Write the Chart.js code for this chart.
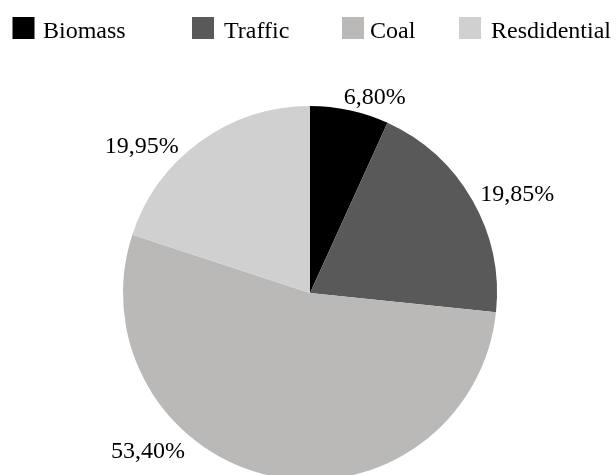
<!DOCTYPE html>
<html>
<head>
<meta charset="utf-8">
<script src="https://cdn.jsdelivr.net/npm/chart.js@4.4.1/dist/chart.umd.min.js"></script>
<style>
  html, body { margin: 0; padding: 0; background: #fff; overflow: hidden; }
  #wrap { width: 616px; height: 475px; overflow: hidden; position: relative; }
  canvas { display: block; }
</style>
</head>
<body>
<div id="wrap"><canvas id="c" width="616" height="586"></canvas></div>
<script>
// Emission sources and their shares (%)
const sources = ['Biomass', 'Traffic', 'Coal', 'Resdidential'];
const shares = [6.80, 19.85, 53.40, 19.95];
const sliceColors = ['#000000', '#595959', '#bab9b7', '#d0d0d0'];

const FONT = '24px "Liberation Serif", "Times New Roman", serif';

// Legend row across the top: a square swatch followed by the source name
const sourceLegend = {
  id: 'sourceLegend',
  afterDraw(chart, args, opts) {
    const ctx = chart.ctx;
    const colors = chart.data.datasets[0].backgroundColor;
    ctx.save();
    ctx.font = FONT;
    ctx.textAlign = 'left';
    ctx.textBaseline = 'alphabetic';
    chart.data.labels.forEach((name, i) => {
      ctx.fillStyle = colors[i];
      ctx.fillRect(opts.boxX[i], opts.boxTop, opts.boxSize, opts.boxSize);
      ctx.fillStyle = '#000';
      ctx.fillText(name, opts.textX[i], opts.baseline);
    });
    ctx.restore();
  }
};

// Percentage labels placed outside each slice, anchored on the rim at the slice's mid-angle
const sliceLabels = {
  id: 'sliceLabels',
  afterDatasetsDraw(chart, args, opts) {
    const ctx = chart.ctx;
    const meta = chart.getDatasetMeta(0);
    const values = chart.data.datasets[0].data;
    ctx.save();
    ctx.font = FONT;
    ctx.fillStyle = '#000';
    ctx.textAlign = 'center';
    ctx.textBaseline = 'alphabetic';
    meta.data.forEach((arc, i) => {
      const p = arc.getProps(['x', 'y', 'startAngle', 'endAngle', 'outerRadius'], true);
      const mid = (p.startAngle + p.endAngle) / 2;
      const ax = p.x + Math.cos(mid) * p.outerRadius;
      const ay = p.y + Math.sin(mid) * p.outerRadius;
      const [dx, dy] = opts.offsets[i];
      const text = values[i].toFixed(2).replace('.', ',') + '%';
      ctx.fillText(text, ax + dx, ay + dy + opts.halfDigit);
    });
    ctx.restore();
  }
};

new Chart(document.getElementById('c'), {
  type: 'pie',
  data: {
    labels: sources,
    datasets: [{
      data: shares,
      backgroundColor: sliceColors,
      borderWidth: 0,
      radius: 187
    }]
  },
  options: {
    responsive: false,
    animation: false,
    events: [],
    layout: { padding: { left: 4, right: 0, top: 0, bottom: 0 } },
    plugins: {
      legend: { display: false },
      tooltip: { enabled: false },
      sourceLegend: {
        boxX: [12.5, 192, 342, 459],
        textX: [43, 224, 370, 491],
        boxTop: 17,
        boxSize: 22,
        baseline: 38
      },
      sliceLabels: {
        offsets: [[25, -13.5], [45, -6.6], [-123, -26], [-58.6, 3.3]],
        halfDigit: 7.7
      }
    }
  },
  plugins: [sourceLegend, sliceLabels]
});
</script>
</body>
</html>
